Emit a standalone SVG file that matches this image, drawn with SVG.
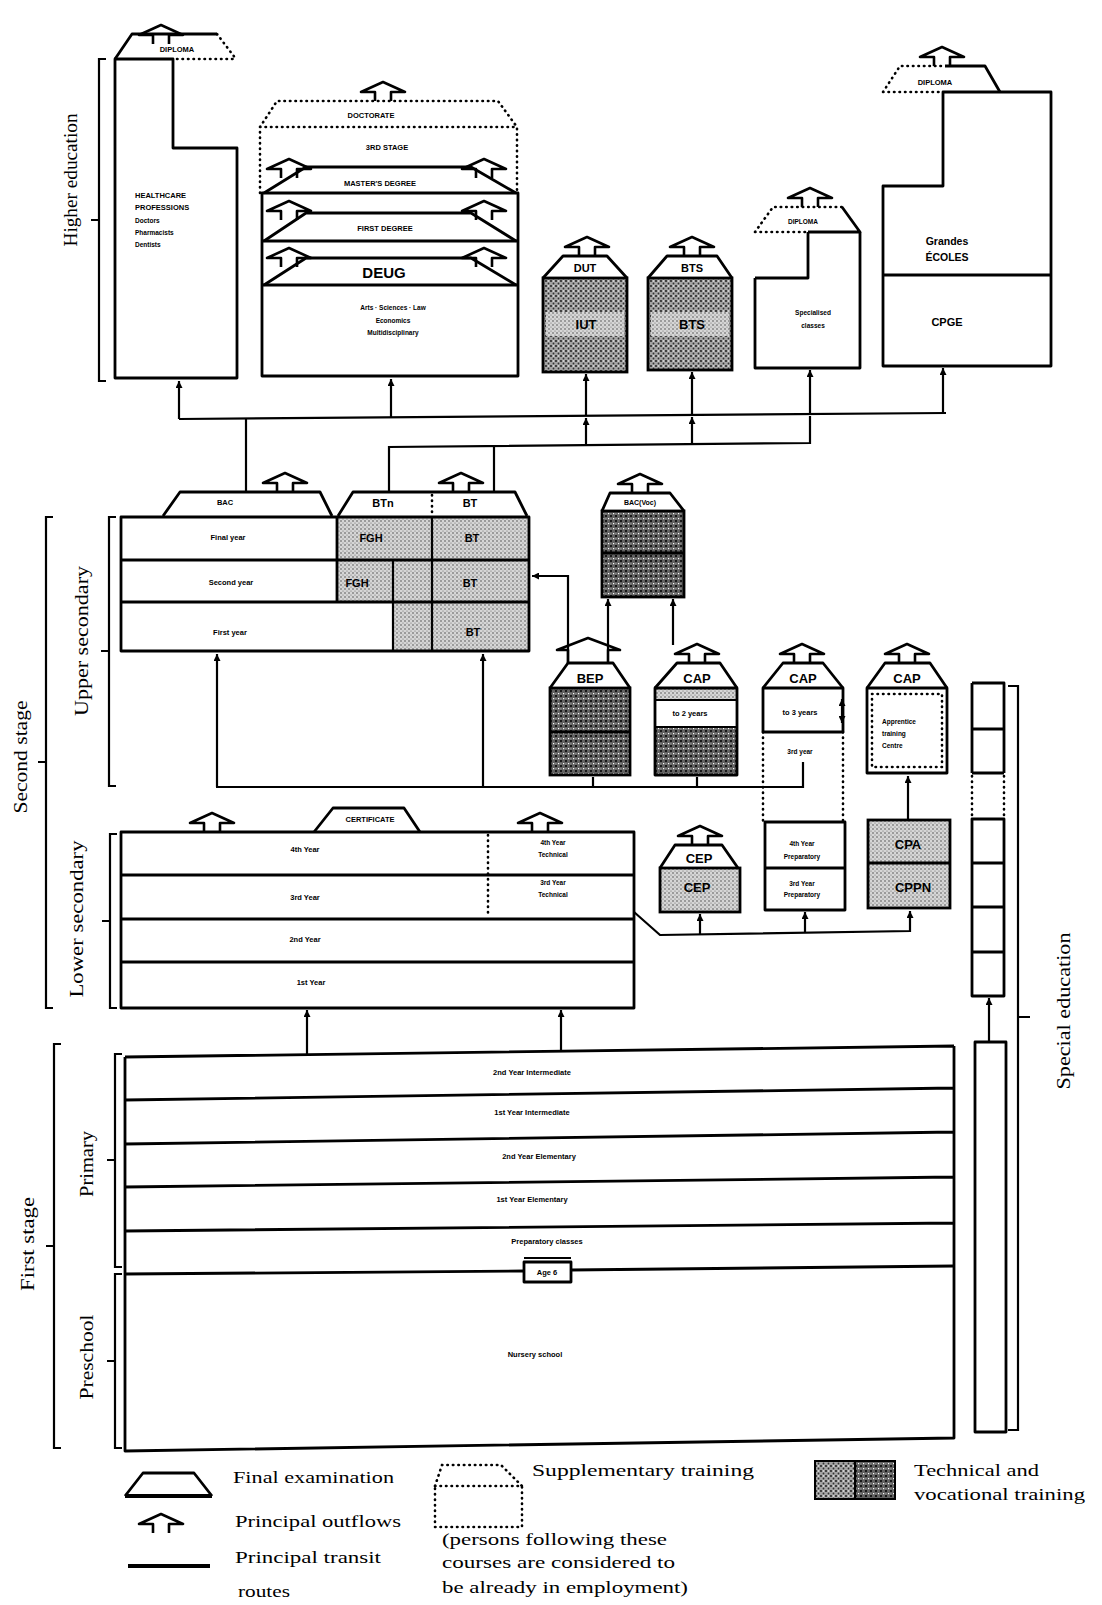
<svg xmlns="http://www.w3.org/2000/svg" width="1102" height="1605" viewBox="0 0 1102 1605">
<style>
.b{fill:none;stroke:#000;stroke-width:2.8;stroke-linejoin:round}
.k{stroke:#000;stroke-width:2.8}
.c{fill:none;stroke:#000;stroke-width:2.2}
.d{fill:none;stroke:#000;stroke-width:2.6;stroke-dasharray:0.5 5;stroke-linecap:round}
.t{font-family:"Liberation Sans",Arial,sans-serif;font-weight:bold;fill:#000;text-anchor:middle}
.st{text-anchor:start}
.xs{font-size:6.5px}
.s{font-size:7.5px}
.m{font-size:11px}
.lg{font-size:13px}
.l{font-family:"Liberation Serif","Times New Roman",serif;font-size:17px;fill:#000}
.r{font-family:"Liberation Serif","Times New Roman",serif;font-size:18px;fill:#000;text-anchor:middle}
</style>
<defs>
<path id="of" d="M-8,19 V10 H-22 L0,0 L22,10 H8 V19" fill="none" stroke="#000" stroke-width="2.6" stroke-linejoin="round"/>
<marker id="ah" viewBox="0 0 8 8" refX="8" refY="4" markerWidth="7" markerHeight="7" markerUnits="userSpaceOnUse" orient="auto-start-reverse"><path d="M0,0 L8,4 L0,8 z" fill="#000"/></marker>
<pattern id="pm" width="5" height="5" patternUnits="userSpaceOnUse"><rect width="5" height="5" fill="#a4a4a4"/><circle cx="1" cy="1" r="0.9" fill="#111"/><circle cx="3.5" cy="3.5" r="0.9" fill="#333"/><rect x="3" y="0.5" width="1" height="1" fill="#fff"/></pattern>
<pattern id="pd" width="5" height="5" patternUnits="userSpaceOnUse"><rect width="5" height="5" fill="#626262"/><circle cx="1" cy="1" r="1" fill="#000"/><rect x="3" y="3" width="1.2" height="1.2" fill="#fff"/><rect x="0.5" y="3.5" width="0.8" height="0.8" fill="#ddd"/></pattern>
<pattern id="pl" width="4" height="4" patternUnits="userSpaceOnUse"><rect width="4" height="4" fill="#d6d6d6"/><circle cx="1" cy="1" r="0.7" fill="#333"/><circle cx="3" cy="3" r="0.6" fill="#666"/></pattern>
</defs>
<rect width="1102" height="1605" fill="#fff"/>

<g id="stage-labels">
<path class="c" d="M106,59 H99 V381 H106 M99,220 H91"/>
<text class="r" transform="translate(77,180) rotate(-90)" textLength="133" lengthAdjust="spacingAndGlyphs">Higher education</text>
<path class="c" d="M53,517 H46 V1008 H53 M46,762 H38"/>
<text class="r" transform="translate(27,757) rotate(-90)" textLength="113" lengthAdjust="spacingAndGlyphs">Second stage</text>
<path class="c" d="M116,517 H109 V786 H116 M109,651 H101"/>
<text class="r" transform="translate(88,641) rotate(-90)" textLength="150" lengthAdjust="spacingAndGlyphs">Upper secondary</text>
<path class="c" d="M117,834 H110 V1008 H117 M110,921 H102"/>
<text class="r" transform="translate(83,919) rotate(-90)" textLength="157" lengthAdjust="spacingAndGlyphs">Lower secondary</text>
<path class="c" d="M61,1044 H54 V1448 H61 M54,1246 H46"/>
<text class="r" transform="translate(34,1244) rotate(-90)" textLength="94" lengthAdjust="spacingAndGlyphs">First stage</text>
<path class="c" d="M122,1054 H115 V1267 H122 M115,1160 H107"/>
<text class="r" transform="translate(93,1164) rotate(-90)" textLength="66" lengthAdjust="spacingAndGlyphs">Primary</text>
<path class="c" d="M122,1274 H115 V1448 H122 M115,1361 H107"/>
<text class="r" transform="translate(93,1357) rotate(-90)" textLength="85" lengthAdjust="spacingAndGlyphs">Preschool</text>
<path class="c" d="M1008,686 H1018 V1430 H1008 M1018,1017 H1030"/>
<text class="r" transform="translate(1070,1011) rotate(-90)" textLength="157" lengthAdjust="spacingAndGlyphs">Special education</text>
</g>

<g id="healthcare">
<path class="b" d="M115,59 H173 V148 H237 V378 H115 Z"/>
<path class="b" d="M115,59 L132,34 H217"/>
<path class="d" d="M217,34 L236,59 M177,59 H236"/>
<use href="#of" x="161" y="25"/>
<text class="t s" x="177" y="52">DIPLOMA</text>
<text class="t s st" x="135" y="198">HEALTHCARE</text>
<text class="t s st" x="135" y="210">PROFESSIONS</text>
<text class="t xs st" x="135" y="223">Doctors</text>
<text class="t xs st" x="135" y="235">Pharmacists</text>
<text class="t xs st" x="135" y="247">Dentists</text>
</g>

<g id="university">
<path class="d" d="M260,193 V127 L277,101 H498 L517,127 V193 M260,127 H517"/>
<rect class="b" x="262" y="193" width="256" height="183"/>
<path class="b" d="M262,241 H518 M262,285 H518"/>
<path class="b" d="M264,193 L306,167 H471 L516,193"/>
<path class="b" d="M264,241 L306,213 H471 L516,241"/>
<path class="b" d="M264,285 L306,258 H471 L516,285"/>
<use href="#of" x="383" y="82"/>
<use href="#of" x="289" y="159"/>
<use href="#of" x="484" y="159"/>
<use href="#of" x="289" y="201"/>
<use href="#of" x="484" y="201"/>
<use href="#of" x="289" y="248"/>
<use href="#of" x="484" y="248"/>
<text class="t s" x="371" y="118">DOCTORATE</text>
<text class="t s" x="387" y="150">3RD STAGE</text>
<text class="t s" x="380" y="186">MASTER'S DEGREE</text>
<text class="t s" x="385" y="231">FIRST DEGREE</text>
<text class="t" font-size="15" x="384" y="278">DEUG</text>
<text class="t xs" x="393" y="310">Arts · Sciences · Law</text>
<text class="t xs" x="393" y="323">Economics</text>
<text class="t xs" x="393" y="335">Multidisciplinary</text>
</g>

<g id="dut">
<rect class="k" x="543" y="278" width="84" height="94" fill="url(#pm)"/>
<rect x="546" y="312" width="78" height="24" fill="url(#pl)"/>
<path class="b" d="M543,278 L563,256 H607 L627,278"/>
<use href="#of" x="587" y="237"/>
<text class="t m" x="585" y="272">DUT</text>
<text class="t lg" x="586" y="329">IUT</text>
</g>

<g id="bts">
<rect class="k" x="648" y="278" width="84" height="92" fill="url(#pm)"/>
<rect x="651" y="312" width="78" height="24" fill="url(#pl)"/>
<path class="b" d="M648,278 L667,256 H717 L732,278"/>
<use href="#of" x="692" y="237"/>
<text class="t m" x="692" y="272">BTS</text>
<text class="t lg" x="692" y="329">BTS</text>
</g>

<g id="specialised-classes">
<path class="b" d="M755,278 H808 V232 M860,232 V368 H755 V278"/>
<path class="d" d="M755,232 L773,207 H842 M755,232 H808"/>
<path class="b" d="M808,232 H860 L842,207"/>
<use href="#of" x="810" y="188"/>
<text class="t xs" x="803" y="224">DIPLOMA</text>
<text class="t xs" x="813" y="315">Specialised</text>
<text class="t xs" x="813" y="328">classes</text>
</g>

<g id="grandes-ecoles">
<path class="b" d="M883,186 H943 V92 H1051 V366 H883 Z M883,275 H1051"/>
<path class="d" d="M883,92 L900,66 H945 M883,92 H943"/>
<path class="b" d="M945,66 H985 L1000,92"/>
<use href="#of" x="942" y="47"/>
<text class="t s" x="935" y="85">DIPLOMA</text>
<text class="t" font-size="10.5" x="947" y="245">Grandes</text>
<text class="t" font-size="10.5" x="947" y="261">ÉCOLES</text>
<text class="t m" x="947" y="326">CPGE</text>
</g>

<g id="upper-secondary">
<rect x="337" y="517" width="192" height="43" fill="url(#pl)"/>
<rect x="337" y="560" width="192" height="42" fill="url(#pl)"/>
<rect x="393" y="602" width="136" height="49" fill="url(#pl)"/>
<rect class="b" x="121" y="517" width="408" height="134"/>
<path class="b" d="M121,560 H529 M121,602 H529 M337,517 V602"/>
<path class="c" d="M393,560 V651 M432,517 V651"/>
<path class="b" d="M163,516 L180,492 H320 L332,516"/>
<path class="b" d="M338,516 L353,492 H515 L527,516"/>
<path class="d" d="M432,495 V513"/>
<use href="#of" x="285" y="473"/>
<use href="#of" x="461" y="473"/>
<text class="t s" x="225" y="505">BAC</text>
<text class="t m" x="383" y="507">BTn</text>
<text class="t m" x="470" y="507">BT</text>
<text class="t s" x="228" y="540">Final year</text>
<text class="t s" x="231" y="585">Second year</text>
<text class="t s" x="230" y="635">First year</text>
<text class="t m" x="371" y="542">FGH</text>
<text class="t m" x="472" y="542">BT</text>
<text class="t m" x="357" y="587">FGH</text>
<text class="t m" x="470" y="587">BT</text>
<text class="t m" x="473" y="636">BT</text>
</g>

<g id="bac-voc">
<rect class="k" x="602" y="511" width="82" height="86" fill="url(#pd)"/>
<path class="b" d="M602,553 H684"/>
<path class="b" d="M602,511 L610,493 H670 L684,511"/>
<use href="#of" x="640" y="474"/>
<text class="t" font-size="7" x="640" y="505">BAC(Voc)</text>
</g>

<g id="bep">
<rect class="k" x="550" y="688" width="80" height="87" fill="url(#pd)"/>
<path class="b" d="M550,732 H630"/>
<path class="b" d="M550,688 L568,663 H613 L630,688"/>
<path d="M568,663 V650 H557 L588,638 L620,650 H608 V663" fill="none" stroke="#000" stroke-width="2.6" stroke-linejoin="round"/>
<text class="t lg" x="590" y="683">BEP</text>
</g>

<g id="cap-2years">
<rect x="655" y="688" width="82" height="12" fill="url(#pl)"/>
<rect x="655" y="727" width="82" height="48" fill="url(#pd)"/>
<rect class="b" x="655" y="688" width="82" height="87"/>
<path class="c" d="M655,700 H737 M655,727 H737"/>
<path class="b" d="M655,688 L677,663 H720 L737,688"/>
<use href="#of" x="697" y="644"/>
<text class="t lg" x="697" y="683">CAP</text>
<text class="t s" x="690" y="716">to 2 years</text>
</g>

<g id="cap-3years">
<rect class="b" x="763" y="688" width="80" height="44"/>
<path class="b" d="M763,688 L783,663 H823 L843,688"/>
<path class="d" d="M763,732 V822 M843,732 V822"/>
<use href="#of" x="802" y="644"/>
<text class="t lg" x="803" y="683">CAP</text>
<text class="t s" x="800" y="715">to 3 years</text>
<text class="t xs" x="800" y="754">3rd year</text>
</g>

<g id="cap-apprentice">
<rect class="b" x="867" y="688" width="80" height="85"/>
<rect class="d" x="872" y="694" width="70" height="73"/>
<path class="b" d="M867,688 L885,663 H930 L947,688"/>
<use href="#of" x="907" y="644"/>
<text class="t lg" x="907" y="683">CAP</text>
<text class="t xs st" x="882" y="724">Apprentice</text>
<text class="t xs st" x="882" y="736">training</text>
<text class="t xs st" x="882" y="748">Centre</text>
</g>

<g id="lower-secondary">
<rect class="b" x="121" y="832" width="513" height="176"/>
<path class="b" d="M121,875 H634 M121,919 H634 M121,962 H634"/>
<path class="d" d="M488,835 V917"/>
<path class="b" d="M314,832 L333,808 H404 L420,832"/>
<use href="#of" x="212" y="813"/>
<use href="#of" x="540" y="813"/>
<text class="t s" x="370" y="822">CERTIFICATE</text>
<text class="t s" x="305" y="852">4th Year</text>
<text class="t s" x="305" y="900">3rd Year</text>
<text class="t s" x="305" y="942">2nd Year</text>
<text class="t s" x="311" y="985">1st Year</text>
<text class="t xs" x="553" y="845">4th Year</text>
<text class="t xs" x="553" y="857">Technical</text>
<text class="t xs" x="553" y="885">3rd Year</text>
<text class="t xs" x="553" y="897">Technical</text>
</g>

<g id="cep">
<rect class="k" x="660" y="868" width="80" height="44" fill="url(#pl)"/>
<path class="b" d="M660,868 L675,845 H722 L738,868"/>
<use href="#of" x="700" y="826"/>
<text class="t lg" x="699" y="863">CEP</text>
<text class="t lg" x="697" y="892">CEP</text>
</g>

<g id="preparatory">
<rect class="b" x="765" y="822" width="80" height="88"/>
<path class="b" d="M765,868 H845"/>
<text class="t xs" x="802" y="846">4th Year</text>
<text class="t xs" x="802" y="859">Preparatory</text>
<text class="t xs" x="802" y="886">3rd Year</text>
<text class="t xs" x="802" y="897">Preparatory</text>
</g>

<g id="cpa-cppn">
<rect class="k" x="868" y="820" width="82" height="88" fill="url(#pl)"/>
<path class="b" d="M868,863 H950"/>
<text class="t lg" x="908" y="849">CPA</text>
<text class="t lg" x="913" y="892">CPPN</text>
</g>

<g id="primary">
<path class="b" d="M125,1057 L954,1046 M125,1100 L954,1088 M125,1144 L954,1132 M125,1187 L954,1177 M125,1231 L954,1223 M125,1057 V1274 M954,1046 V1266"/>
<text class="t s" x="532" y="1075">2nd Year Intermediate</text>
<text class="t s" x="532" y="1115">1st Year Intermediate</text>
<text class="t s" x="539" y="1159">2nd Year Elementary</text>
<text class="t s" x="532" y="1202">1st Year Elementary</text>
<text class="t s" x="547" y="1244">Preparatory classes</text>
</g>

<g id="age-6">
<path class="b" d="M125,1274 L524,1271 M571,1270 L954,1266"/>
<rect class="b" x="524" y="1262" width="47" height="20" fill="#fff"/>
<path class="c" d="M524,1258 H571"/>
<text class="t s" x="547" y="1275">Age 6</text>
</g>

<g id="preschool">
<path class="b" d="M125,1274 V1451 L954,1438 V1266"/>
<text class="t s" x="535" y="1357">Nursery school</text>
</g>

<g id="special-education">
<path class="b" d="M972,683 H1004 V773 M972,683 V773 M972,729 H1004 M972,773 H1004"/>
<path class="d" d="M972,776 V817 M1004,776 V817"/>
<path class="b" d="M972,819 H1004 V996 H972 Z M972,863 H1004 M972,907 H1004 M972,952 H1004"/>
<rect class="b" x="975" y="1042" width="31" height="390"/>
</g>

<g id="connectors">
<path class="c" d="M179,419 L946,413"/>
<path class="c" d="M389,493 V447 L810,443 V416"/>
<path class="c" d="M179,419 V381" marker-end="url(#ah)"/>
<path class="c" d="M391,417 V379" marker-end="url(#ah)"/>
<path class="c" d="M246,418 V493"/>
<path class="c" d="M494,446 V493"/>
<path class="c" d="M586,446 V418" marker-end="url(#ah)"/>
<path class="c" d="M586,416 V374" marker-end="url(#ah)"/>
<path class="c" d="M692,445 V417" marker-end="url(#ah)"/>
<path class="c" d="M692,415 V372" marker-end="url(#ah)"/>
<path class="c" d="M810,414 V370" marker-end="url(#ah)"/>
<path class="c" d="M943,413 V368" marker-end="url(#ah)"/>
<path class="c" d="M568,663 V576 H532" marker-end="url(#ah)"/>
<path class="c" d="M608,650 V599" marker-end="url(#ah)"/>
<path class="c" d="M673,645 V599" marker-end="url(#ah)"/>
<path class="c" d="M216,787 H803 V762"/>
<path class="c" d="M217,787 V654" marker-end="url(#ah)"/>
<path class="c" d="M483,787 V654" marker-end="url(#ah)"/>
<path class="c" d="M593,787 V777 M697,787 V777"/>
<path class="c" d="M842,699 V723" marker-start="url(#ah)" marker-end="url(#ah)"/>
<path class="c" d="M908,820 V776" marker-end="url(#ah)"/>
<path class="c" d="M634,912 L660,935 L910,931 V911" marker-end="url(#ah)"/>
<path class="c" d="M700,935 V914" marker-end="url(#ah)"/>
<path class="c" d="M805,933 V912" marker-end="url(#ah)"/>
<path class="c" d="M307,1055 V1010" marker-end="url(#ah)"/>
<path class="c" d="M561,1052 V1010" marker-end="url(#ah)"/>
<path class="c" d="M989,1042 V998" marker-end="url(#ah)"/>
</g>

<g id="legend">
<path class="b" d="M125,1496 L143,1473 H194 L212,1496"/>
<path d="M125,1496 H212" stroke="#000" stroke-width="4"/>
<text class="l" x="233" y="1483" textLength="161" lengthAdjust="spacingAndGlyphs">Final examination</text>
<use href="#of" x="161" y="1514"/>
<text class="l" x="235" y="1527" textLength="166" lengthAdjust="spacingAndGlyphs">Principal outflows</text>
<path d="M128,1566 H210" stroke="#000" stroke-width="4"/>
<text class="l" x="235" y="1563" textLength="146" lengthAdjust="spacingAndGlyphs">Principal transit</text>
<text class="l" x="238" y="1597" textLength="52" lengthAdjust="spacingAndGlyphs">routes</text>
<path class="d" d="M435,1486 L442,1465 H501 L522,1486 M435,1486 H522 V1527 H435 Z"/>
<text class="l" x="532" y="1476" textLength="222" lengthAdjust="spacingAndGlyphs">Supplementary training</text>
<text class="l" x="442" y="1545" textLength="225" lengthAdjust="spacingAndGlyphs">(persons following these</text>
<text class="l" x="442" y="1568" textLength="233" lengthAdjust="spacingAndGlyphs">courses are considered to</text>
<text class="l" x="442" y="1593" textLength="246" lengthAdjust="spacingAndGlyphs">be already in employment)</text>
<rect x="815" y="1461" width="40" height="38" fill="url(#pm)" stroke="#000" stroke-width="2"/>
<rect x="855" y="1461" width="40" height="38" fill="url(#pd)" stroke="#000" stroke-width="2"/>
<text class="l" x="914" y="1476" textLength="125" lengthAdjust="spacingAndGlyphs">Technical and</text>
<text class="l" x="914" y="1500" textLength="171" lengthAdjust="spacingAndGlyphs">vocational training</text>
</g>
</svg>
